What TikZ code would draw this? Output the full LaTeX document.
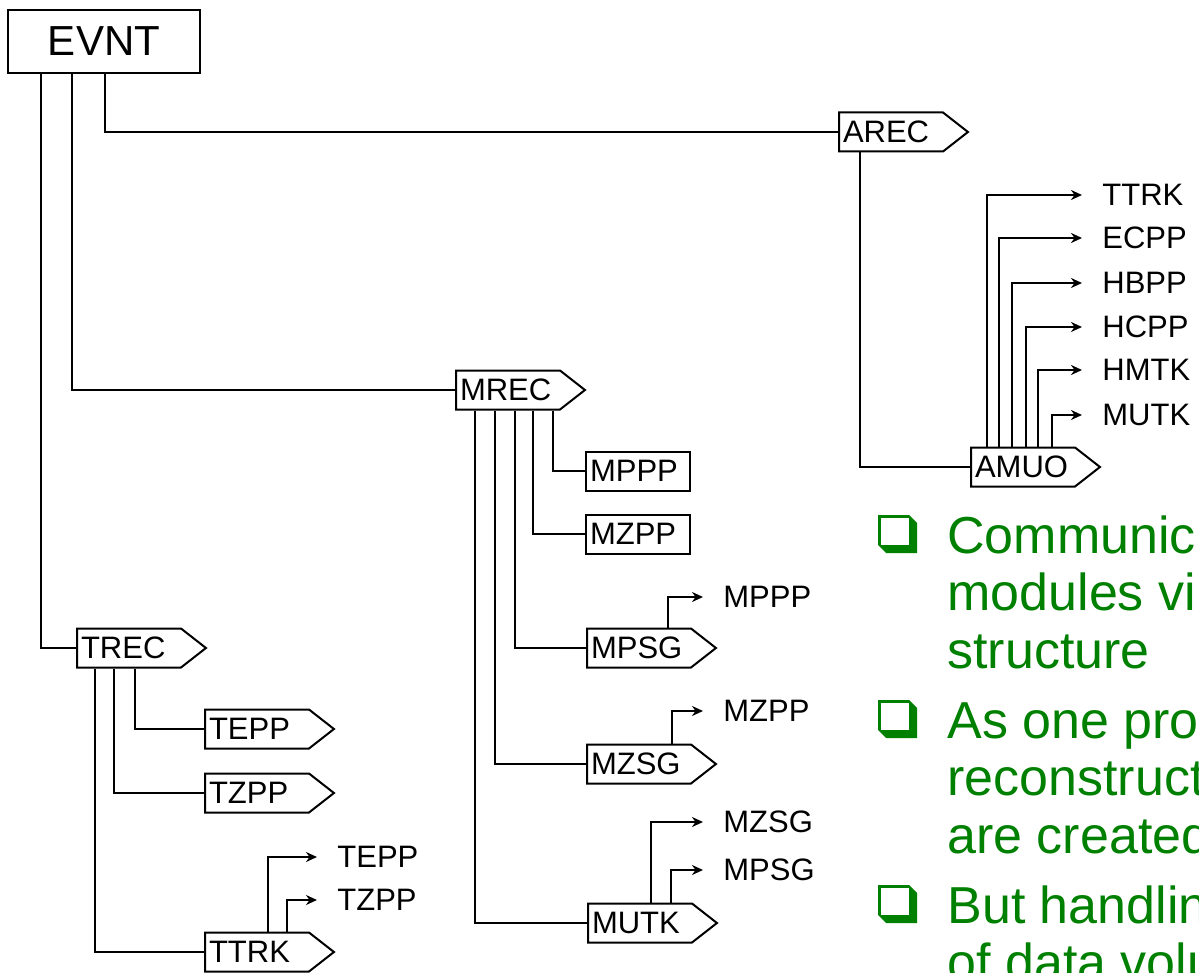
\documentclass[tikz,border=0pt]{standalone}
\usepackage{fontspec}
\setmainfont{Liberation Sans}
\usetikzlibrary{arrows.meta,positioning,shapes.symbols}
\definecolor{slidegreen}{RGB}{0,128,0}

\begin{document}
\begin{tikzpicture}[
    x=0.5pt, y=-0.5pt,
    every node/.style={font=\fontsize{15.5}{18}\selectfont},
    bank/.style={draw, line width=1pt, rectangle, anchor=west, text width=48pt, inner xsep=2pt, inner ysep=0pt, minimum height=19.5pt, align=left},
    module/.style={bank, signal, signal to=east, signal pointer angle=76},
    topbox/.style={draw, line width=1pt, minimum width=96pt, minimum height=31.5pt, font=\fontsize{21}{24}\selectfont},
    link/.style={line width=1pt},
    feed/.style={line width=1pt, -{Stealth[length=5.5pt, width=5pt]}},
    outname/.style={anchor=west, inner sep=0pt},
    point/.style={anchor=base west, align=left, text=slidegreen, inner sep=0pt, font=\fontsize{26}{28.75}\selectfont},
    bulletbox/.style={fill=slidegreen}
]
\useasboundingbox (0,0) rectangle (1199,973);
\node[topbox] (evnt) at (104,41.5) {EVNT};
\node[module] (arec) at (838,132) {AREC};
\node[module] (amuo) at (970,467) {AMUO};
\node[module] (mrec) at (455,390) {MREC};
\node[bank] (mppp) at (585,471) {MPPP};
\node[bank] (mzpp) at (585,534) {MZPP};
\node[module] (mpsg) at (586,648) {MPSG};
\node[module] (mzsg) at (586,764) {MZSG};
\node[module] (mutk) at (587,923) {MUTK};
\node[module] (trec) at (76,648) {TREC};
\node[module] (tepp) at (204,729) {TEPP};
\node[module] (tzpp) at (204,793) {TZPP};
\node[module] (ttrk) at (204,952) {TTRK};

\draw[link] ([xshift=17pt]evnt.south west) |- (trec.west);
\draw[link] ([xshift=32.5pt]evnt.south west) |- (mrec.west);
\draw[link] ([xshift=49pt]evnt.south west) |- (arec.west);
\draw[link] ([xshift=11pt]arec.south west) |- (amuo.west);
\foreach \dx/\dst in {10/mutk, 20/mzsg, 30/mpsg, 39/mzpp, 49/mppp}
    \draw[link] ([xshift=\dx pt]mrec.south west) |- (\dst.west);
\foreach \dx/\dst in {9.5/ttrk, 19/tzpp, 29.5/tepp}
    \draw[link] ([xshift=\dx pt]trec.south west) |- (\dst.west);

\foreach \txt/\yy/\dx [count=\i] in {TTRK/195/8.5, ECPP/238/14.5, HBPP/283/21, HCPP/327/28, HMTK/370/34, MUTK/415/41} {
    \node[outname] (amuo-\i) at (1102,\yy) {\txt};
    \draw[feed] ([xshift=\dx pt]amuo.north west) |- ([xshift=-10pt]amuo-\i.west);
}
\node[outname] (mpsg-1) at (723,597) {MPPP};
\node[outname] (mzsg-1) at (723,711) {MZPP};
\node[outname] (mutk-1) at (723,822) {MZSG};
\node[outname] (mutk-2) at (723,870) {MPSG};
\node[outname] (ttrk-1) at (337,857) {TEPP};
\node[outname] (ttrk-2) at (337,900) {TZPP};
\draw[feed] ([xshift=41pt]mpsg.north west) |- ([xshift=-10pt]mpsg-1.west);
\draw[feed] ([xshift=43pt]mzsg.north west) |- ([xshift=-10pt]mzsg-1.west);
\draw[feed] ([xshift=32pt]mutk.north west) |- ([xshift=-10pt]mutk-1.west);
\draw[feed] ([xshift=42pt]mutk.north west) |- ([xshift=-10pt]mutk-2.west);
\draw[feed] ([xshift=32pt]ttrk.north west) |- ([xshift=-10pt]ttrk-1.west);
\draw[feed] ([xshift=41.5pt]ttrk.north west) |- ([xshift=-10pt]ttrk-2.west);

\foreach \yb in {553,738,923} {
    \fill[bulletbox] (878,\yb-38) -- (909,\yb-38) -- (917,\yb-30) -- (917,\yb) -- (886,\yb) -- (878,\yb-8) -- cycle;
    \fill[white] (881,\yb-35) rectangle (909,\yb-8);
}
\node[point] (p1) at (947,668) {Communic\\modules vi\\structure};
\node[point] (p2) at (947,853) {As one pro\\reconstruct\\are created};
\node[point] (p3) at (947,980.5) {But handlin\\of data volu};
\end{tikzpicture}
\end{document}
